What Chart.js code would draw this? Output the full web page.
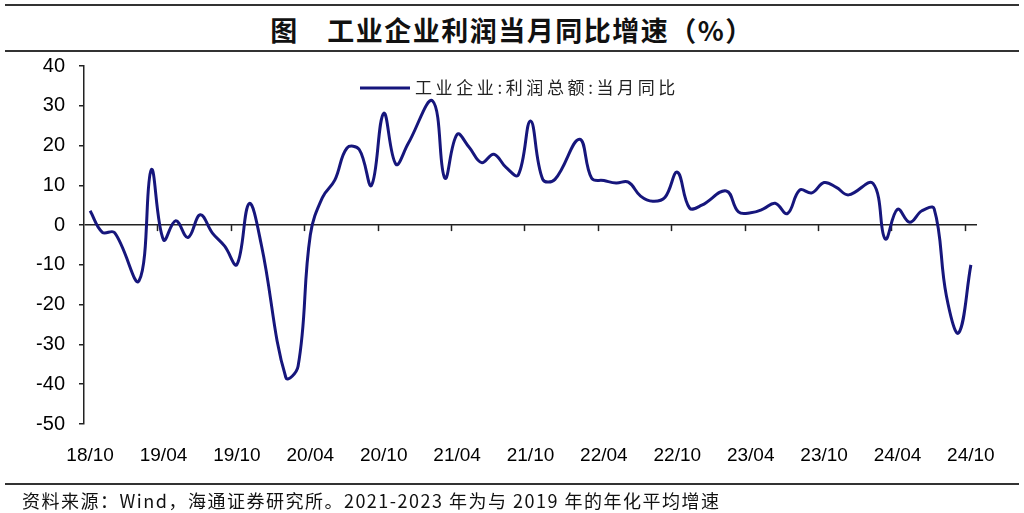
<!DOCTYPE html>
<html>
<head>
<meta charset="utf-8">
<script src="https://cdn.jsdelivr.net/npm/chart.js@4.4.0/dist/chart.umd.min.js"></script>
<style>
  body { margin: 0; background: #fff; }
  #wrap { position: relative; width: 1024px; height: 513px; overflow: hidden; }
  .rule { position: absolute; left: 5px; right: 5px; height: 2px; background: #333; }
  #title { position: absolute; left: 0; width: 1024px; top: 10px; text-align: center;
           font: bold 27px 'Noto Sans CJK SC'; letter-spacing: 1.5px; color: #111; line-height: 40px; }
  #foot { position: absolute; left: 22px; top: 487px; line-height: 20px;
          font: 18px 'Liberation Sans Narrow', 'Noto Sans CJK SC'; letter-spacing: 1.5px; color: #111; }
  canvas { position: absolute; left: 0; top: 0; }
</style>
</head>
<body>
<div id="wrap">
  <div class="rule" style="top:4px"></div>
  <div id="title">图　工业企业利润当月同比增速（%）</div>
  <div class="rule" style="top:50px"></div>
  <canvas id="myChart" width="1024" height="513"></canvas>
  <div class="rule" style="top:483px"></div>
  <div id="foot">资料来源：Wind，海通证券研究所。2021-2023 年为与 2019 年的年化平均增速</div>
</div>
<script>
// months 18/10 .. 24/10, January has no separate figure (Jan-Feb combined)
var months = [
  '18/10','18/11','18/12',
  '19/01','19/02','19/03','19/04','19/05','19/06','19/07','19/08','19/09','19/10','19/11','19/12',
  '20/01','20/02','20/03','20/04','20/05','20/06','20/07','20/08','20/09','20/10','20/11','20/12',
  '21/01','21/02','21/03','21/04','21/05','21/06','21/07','21/08','21/09','21/10','21/11','21/12',
  '22/01','22/02','22/03','22/04','22/05','22/06','22/07','22/08','22/09','22/10','22/11','22/12',
  '23/01','23/02','23/03','23/04','23/05','23/06','23/07','23/08','23/09','23/10','23/11','23/12',
  '24/01','24/02','24/03','24/04','24/05','24/06','24/07','24/08','24/09','24/10'
]

var profitYoY = [
  3.6, -1.8, -1.9,
  null, -14.0, 13.9, -3.7, 1.1, -3.1, 2.6, -2.0, -5.3, -9.9, 5.4, -5.0,
  null, -38.3, -35.5, -2.5, 7.0, 11.3, 19.4, 19.0, 10.0, 28.1, 15.3, 20.5,
  null, 31.2, 11.8, 22.8, 19.5, 15.7, 17.8, 14.5, 12.6, 26.2, 11.5, 11.5,
  null, 21.6, 11.8, 11.2, 10.6, 10.8, 7.3, 6.0, 7.0, 13.3, 4.3, 5.0,
  null, 8.6, 3.3, 3.1, 4.0, 5.5, 2.9, 8.8, 8.1, 10.7, 9.5, 7.6,
  null, 10.5, -3.5, 4.0, 0.7, 3.6, 4.1, -17.8, -27.1, -10.0
]

var shownTicks = ['18/10','19/04','19/10','20/04','20/10','21/04','21/10','22/04','22/10','23/04','23/10','24/04','24/10']

var seriesName = '工业企业:利润总额:当月同比'
var lineColor = '#16167c'
var axisColor = '#222'

// small tick marks on the zero line, between categories
var zeroAxisTicks = {
  id: 'zeroAxisTicks',
  beforeDatasetsDraw: function(chart){
    var ctx = chart.ctx
    var x = chart.scales.x
    var y0 = chart.scales.y.getPixelForValue(0)
    ctx.save()
    ctx.strokeStyle = axisColor
    ctx.lineWidth = 1.5
    for(let i = 1; i < months.length; i++){
      if(shownTicks.indexOf(months[i]) < 0) continue
      let px = Math.round(x.getPixelForValue(i - 0.5)) + 0.5
      ctx.beginPath()
      ctx.moveTo(px, y0)
      ctx.lineTo(px, y0 + 6)
      ctx.stroke()
    }
    ctx.restore()
  }
}

// legend drawn inside the plot like the original
var innerLegend = {
  id: 'innerLegend',
  afterDraw: function(chart){
    var ctx = chart.ctx
    ctx.save()
    ctx.strokeStyle = lineColor
    ctx.lineWidth = 3
    ctx.beginPath()
    ctx.moveTo(360, 88)
    ctx.lineTo(410, 88)
    ctx.stroke()
    ctx.fillStyle = '#222'
    ctx.font = "17px 'Noto Sans CJK SC'"
    ctx.textBaseline = 'middle'
    if('letterSpacing' in ctx) ctx.letterSpacing = '3.6px'
    ctx.fillText(seriesName, 415, 88)
    ctx.restore()
  }
}

var tickFont = { family: "'Liberation Sans Narrow','Liberation Sans',Arial", size: 19 }

var ctx = document.getElementById('myChart').getContext('2d')
var chart = new Chart(ctx, {
  type: 'line',
  data: {
    labels: months,
    datasets: [{
      label: seriesName,
      data: profitYoY,
      borderColor: lineColor,
      borderWidth: 3,
      pointRadius: 0,
      tension: 0.4,
      spanGaps: true,
      fill: false
    }]
  },
  options: {
    responsive: false,
    animation: false,
    layout: { padding: { left: 10, right: 47, top: 66, bottom: 49 } },
    plugins: {
      legend: { display: false },
      tooltip: { enabled: false }
    },
    scales: {
      x: {
        type: 'category',
        offset: true,
        grid: { display: false },
        border: { display: false },
        ticks: {
          autoSkip: false,
          maxRotation: 0,
          padding: 12,
          color: '#000',
          font: tickFont,
          callback: function(v){
            var l = this.getLabelForValue(v)
            return shownTicks.indexOf(l) >= 0 ? l : null
          }
        },
        afterFit: function(s){ s.height = 40 }
      },
      y: {
        min: -50,
        max: 40,
        ticks: { stepSize: 10, padding: 14, color: '#000', font: { family: "'Liberation Sans',Arial", size: 20 } },
        grid: {
          color: function(c){ return c.tick && c.tick.value === 0 ? axisColor : 'rgba(0,0,0,0)' },
          lineWidth: 1.5,
          tickColor: axisColor,
          tickLength: 5
        },
        border: { display: true, color: axisColor, width: 1.5 },
        afterFit: function(s){ s.width = 74 }
      }
    }
  },
  plugins: [zeroAxisTicks, innerLegend]
})
</script>
</body>
</html>
